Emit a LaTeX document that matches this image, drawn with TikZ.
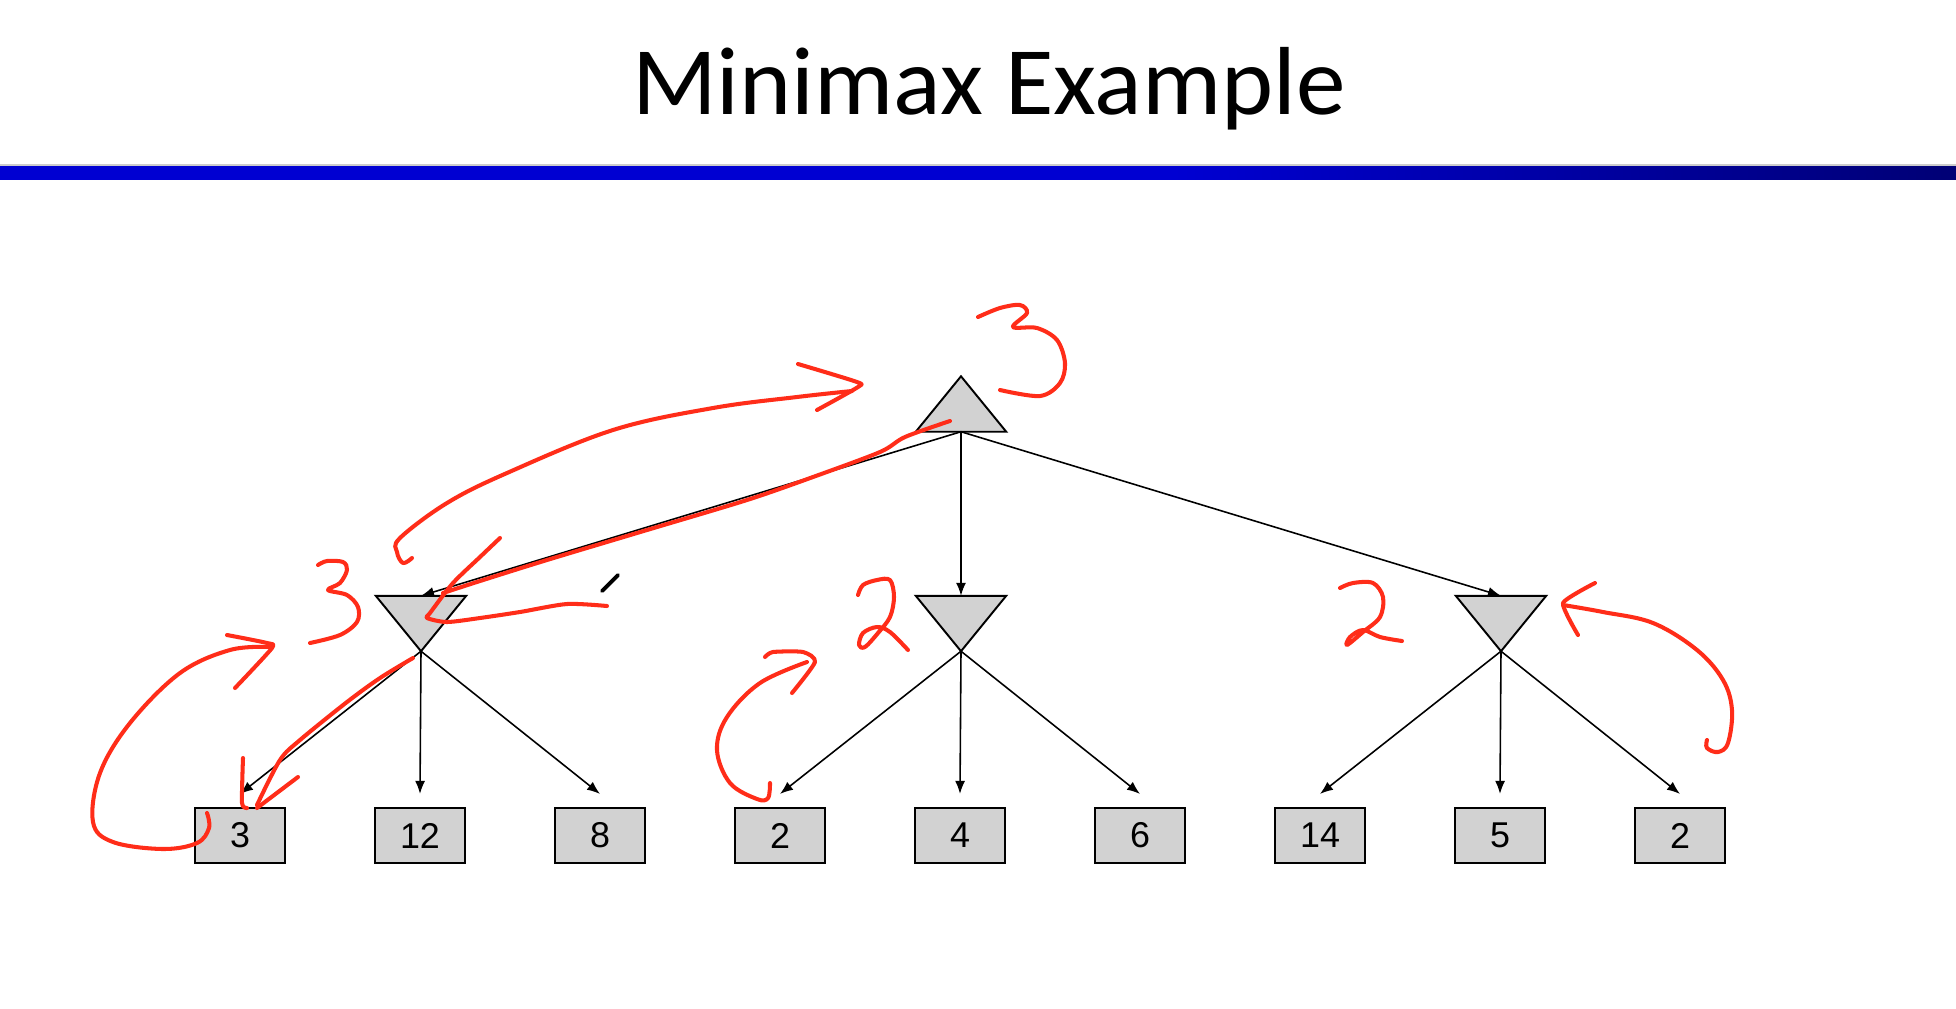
\documentclass[tikz,border=0pt]{standalone}
\usepackage{fontspec}
\setmainfont{Carlito}
\newfontfamily\leaffont{Liberation Sans}
\usetikzlibrary{arrows.meta,calc}

\definecolor{barblue}{RGB}{0,0,210}
\definecolor{boxgray}{RGB}{210,210,210}
\definecolor{ink}{RGB}{255,45,25}
\pgfdeclarehorizontalshading{barshade}{100bp}{color(0bp)=(barblue); color(55bp)=(barblue); color(100bp)=(black)}

\tikzset{
  trinode/.style={rectangle, inner sep=0pt, minimum width=0.89cm, minimum height=0.54cm},
  leafbox/.style={rectangle, draw=black, line width=0.6pt, fill=boxgray, inner sep=0pt,
    minimum width=0.9cm, minimum height=0.55cm, font=\leaffont\fontsize{10.2}{12}\selectfont},
  trishape/.style={draw=black, line width=0.55pt, fill=boxgray, line join=miter},
  edge/.style={draw=black, line width=0.45pt, -{Latex[length=0.13cm,width=0.1cm]}},
  pen/.style={draw=ink, line width=1.15pt, line cap=round, line join=round},
  blackpen/.style={draw=black, line width=1.1pt, line cap=round}
}

\begin{document}
\begin{tikzpicture}[x=0.01cm, y=-0.01cm]
\useasboundingbox (0,0) rectangle (1956,1008);
\fill[white] (0,0) rectangle (1956,1008);

% heading and rule
\node[anchor=base, font=\fontsize{27.5}{33}\selectfont, inner sep=0pt, xscale=1.025] (title) at (989,114) {Minimax Example};
\draw[gray!40, line width=0.3pt] (0,165) -- (1956,165);
\shade[shading=barshade] (0,166) rectangle (1956,179);

% max node
\node[trinode] (root) at (961,404) {};
\filldraw[trishape] (root.south west) -- (root.south east) -- (root.north) -- cycle;

% min nodes
\node[trinode] (m1) at (421,623.5) {};
\node[trinode] (m2) at (961,623.5) {};
\node[trinode] (m3) at (1501,623.5) {};
\foreach \m in {m1,m2,m3}
  \filldraw[trishape] (\m.north west) -- (\m.north east) -- (\m.south) -- cycle;

% leaves
\node[leafbox] (l1) at (240,835.5) {3};
\node[leafbox] (l2) at (420,835.5) {12};
\node[leafbox] (l3) at (600,835.5) {8};
\node[leafbox] (l4) at (780,835.5) {2};
\node[leafbox] (l5) at (960,835.5) {4};
\node[leafbox] (l6) at (1140,835.5) {6};
\node[leafbox] (l7) at (1320,835.5) {14};
\node[leafbox] (l8) at (1500,835.5) {5};
\node[leafbox] (l9) at (1680,835.5) {2};

% tree edges
\foreach \m in {m1,m2,m3}
  \draw[edge] (root.south) -- (\m.north);
\foreach \m/\a/\b/\c in {m1/l1/l2/l3, m2/l4/l5/l6, m3/l7/l8/l9}
  \foreach \l in {\a,\b,\c}
    \draw[edge] (\m.south) -- ($(\l.north)+(0,-13)$);

% handwritten values
\draw[pen] plot[smooth, tension=0.55] coordinates {(978,317) (1000,308) (1020,305) (1027,313) (1013,327) (1037,328) (1057,340) (1065,363) (1060,383) (1040,396) (1000,390)};
\draw[pen] plot[smooth, tension=0.55] coordinates {(318,565) (327,561) (343,562) (347,570) (340,583) (328,590) (347,595) (358,607) (357,622) (340,635) (310,643)};
\draw[pen] plot[smooth, tension=0.55] coordinates {(858,595) (863,585) (877,580) (890,580) (894,597) (890,617) (878,633) (865,647) (859,645) (863,633) (877,627) (890,632) (908,650)};
\draw[pen] plot[smooth, tension=0.55] coordinates {(1340,588) (1353,583) (1373,583) (1383,597) (1380,617) (1363,632) (1347,645) (1350,637) (1363,630) (1380,637) (1402,641)};

% long arc towards the max node
\draw[pen] plot[smooth, tension=0.6] coordinates {(412,558) (403,563) (397,552) (400,538) (447,503) (507,473) (613,430) (713,408) (797,397) (852,391)};
\draw[pen] plot[smooth, tension=0.4] coordinates {(798,364) (857,382) (858,387) (817,410)};

% stroke back down to the first min node
\draw[pen] plot[smooth, tension=0.5] coordinates {(950,421) (905,437) (880,452) (813,477) (747,500) (647,530) (547,560) (480,581) (443,593)};
\draw[pen] plot[smooth, tension=0.45] coordinates {(500,538) (480,557) (453,583) (430,613) (427,618) (447,622) (480,618) (520,612) (567,604) (607,606)};

% stroke from the first min node to its left leaf
\draw[pen] plot[smooth, tension=0.5] coordinates {(413,658) (380,678) (347,702) (300,740) (280,760) (257,805)};
\draw[pen] plot[smooth, tension=0.4] coordinates {(243,758) (242,803) (247,808)};
\draw[pen] (298,777) -- (257,808);

% curl from the leaf 3 back up
\draw[pen] plot[smooth, tension=0.6] coordinates {(207,813) (209,828) (197,843) (163,849) (113,842) (93,822) (100,773) (130,723) (180,673) (230,650) (270,647)};
\draw[pen] plot[smooth, tension=0.4] coordinates {(227,635) (267,643) (272,648) (235,688)};

% curl from leaf 2 up to the second min node
\draw[pen] plot[smooth, tension=0.6] coordinates {(770,783) (768,798) (757,799) (730,783) (717,750) (727,717) (760,683) (807,662)};
\draw[pen] plot[smooth, tension=0.4] coordinates {(765,657) (773,652) (803,652) (815,662) (792,693)};

% arc on the right towards the third min node
\draw[pen] plot[smooth, tension=0.6] coordinates {(1563,605) (1603,612) (1653,623) (1697,650) (1723,680) (1732,710) (1728,743) (1718,752) (1707,748) (1707,740)};
\draw[pen] plot[smooth, tension=0.3] coordinates {(1595,583) (1563,603) (1578,635)};

% stray pen mark
\draw[blackpen] (602,591) -- (618,575);
\end{tikzpicture}
\end{document}
